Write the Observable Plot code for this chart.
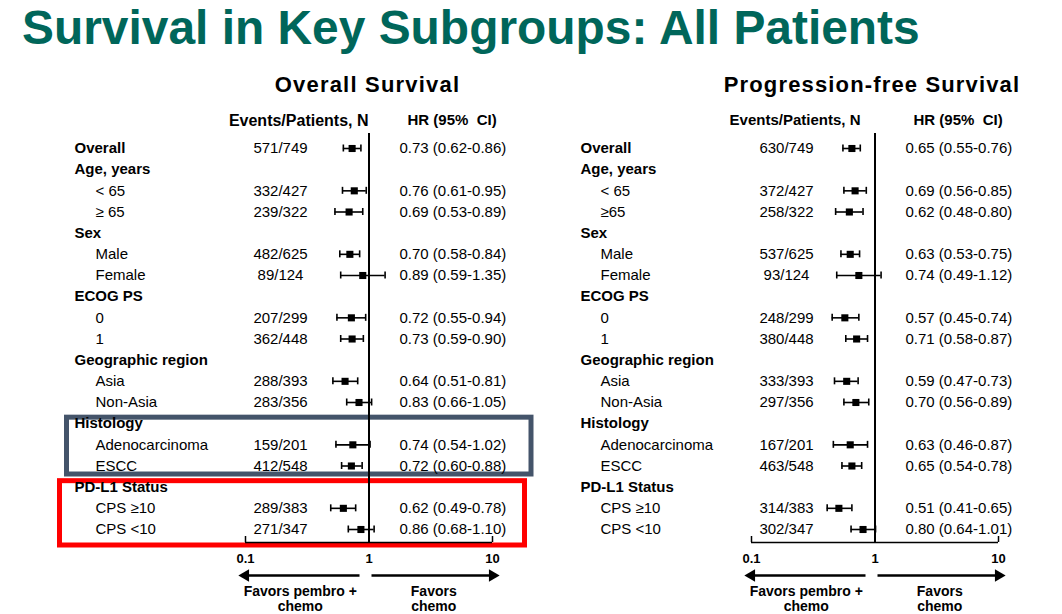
<!DOCTYPE html>
<html><head><meta charset="utf-8">
<script src="https://cdn.jsdelivr.net/npm/d3@7"></script>
<script src="https://cdn.jsdelivr.net/npm/@observablehq/plot@0.6"></script>
<style>
html,body{margin:0;padding:0;background:#fff;}
#root{position:relative;width:1062px;height:614px;overflow:hidden;font-family:"Liberation Sans",Arial,sans-serif;background:#fff;}
#title{position:absolute;left:22px;top:4px;font-size:47.9px;font-weight:bold;color:#00665a;line-height:48px;white-space:nowrap;}
.panel{position:absolute;top:60px;}
</style></head><body>
<div id="root"><div id="title">Survival in Key Subgroups: All Patients</div></div>
<script>
// ---- data ----
const rowLabels = ["Overall","Age, years","< 65","≥ 65","Sex","Male","Female","ECOG PS","0","1",
  "Geographic region","Asia","Non-Asia","Histology","Adenocarcinoma","ESCC","PD-L1 Status","CPS ≥10","CPS <10"];
const headerRows = ["Overall","Age, years","Sex","ECOG PS","Geographic region","Histology","PD-L1 Status"];

const osEvents = ["571/749",null,"332/427","239/322",null,"482/625","89/124",null,"207/299","362/448",null,"288/393","283/356",null,"159/201","412/548",null,"289/383","271/347"];
const osHR   = [0.73,null,0.76,0.69,null,0.70,0.89,null,0.72,0.73,null,0.64,0.83,null,0.74,0.72,null,0.62,0.86];
const osLow  = [0.62,null,0.61,0.53,null,0.58,0.59,null,0.55,0.59,null,0.51,0.66,null,0.54,0.60,null,0.49,0.68];
const osHigh = [0.86,null,0.95,0.89,null,0.84,1.35,null,0.94,0.90,null,0.81,1.05,null,1.02,0.88,null,0.78,1.10];

const pfsEvents = ["630/749",null,"372/427","258/322",null,"537/625","93/124",null,"248/299","380/448",null,"333/393","297/356",null,"167/201","463/548",null,"314/383","302/347"];
const pfsHR   = [0.65,null,0.69,0.62,null,0.63,0.74,null,0.57,0.71,null,0.59,0.70,null,0.63,0.65,null,0.51,0.80];
const pfsLow  = [0.55,null,0.56,0.48,null,0.53,0.49,null,0.45,0.58,null,0.47,0.56,null,0.46,0.54,null,0.41,0.64];
const pfsHigh = [0.76,null,0.85,0.80,null,0.75,1.12,null,0.74,0.87,null,0.73,0.89,null,0.87,0.78,null,0.65,1.01];

const axisTicks = [0.1, 1, 10];
const favorsLeft = "Favors pembro +\nchemo";
const favorsRight = "Favors\nchemo";

// ---- build ----
function buildRows(labels, events, hr, lo, hi) {
  return labels.map((label, i) => ({
    i, label, header: headerRows.includes(label),
    events: events[i], hr: hr[i], lo: lo[i], hi: hi[i]
  }));
}
const fmt = v => v.toFixed(2);

function panel(cfg, rows) {
  const est = rows.filter(d => d.hr != null);
  const last = rows.length - 1;
  const marks = [];
  if (cfg.boxes) {
    const idx = l => rows.findIndex(d => d.label === l);
    marks.push(
      Plot.rect([{a: idx("Histology"), b: idx("ESCC")}], {y1: "a", y2: "b", insetTop: -6, insetBottom: -8.5,
        insetLeft: 66.5, insetRight: cfg.width - 531, fill: "none", stroke: "#44546a", strokeWidth: 5}),
      Plot.rect([{a: idx("PD-L1 Status"), b: idx("CPS <10")}], {y1: "a", y2: "b", insetTop: -6, insetBottom: -16,
        insetLeft: 59.5, insetRight: cfg.width - 524.5, fill: "none", stroke: "#ff0000", strokeWidth: 5})
    );
  }
  marks.push(
    // reference line at HR = 1
    Plot.ruleX([1], {insetTop: 73, stroke: "#000", strokeWidth: 2}),
    // axis line and end ticks
    Plot.ruleY([last], {x1: axisTicks[0], x2: axisTicks[2], dy: 13, stroke: "#000", strokeWidth: 1.5}),
    Plot.ruleX([axisTicks[0], axisTicks[2]], {insetTop: 476, stroke: "#000", strokeWidth: 1.5}),
    Plot.axisX({ticks: axisTicks, tickSize: 0, tickPadding: 11, tickFormat: d => String(d),
      fontWeight: "bold", fontSize: 13, label: null}),
    // favors arrows
    Plot.ruleY([last], {x1: axisTicks[0], x2: axisTicks[1], dy: 46, insetRight: 9, stroke: "#000", strokeWidth: 2.5}),
    Plot.ruleY([last], {x1: axisTicks[1], x2: axisTicks[2], dy: 46, insetLeft: 3, stroke: "#000", strokeWidth: 2.5}),
    Plot.dot([{x: axisTicks[0], angle: -90}, {x: axisTicks[2], angle: 90}], {x: "x", y: () => last, rotate: "angle",
      symbol: "triangle", r: 4.6, fill: "#000", stroke: "none", dy: 46}),
    Plot.text([favorsLeft], {x: Math.sqrt(axisTicks[0] * axisTicks[1]), text: d => d, frameAnchor: "bottom",
      lineAnchor: "middle", dy: 56, dx: -7, fontWeight: "bold", fontSize: 14, lineHeight: 1.12, textAnchor: "middle"}),
    Plot.text([favorsRight], {x: Math.sqrt(axisTicks[1] * axisTicks[2]), text: d => d, frameAnchor: "bottom",
      lineAnchor: "middle", dy: 56, dx: 3, fontWeight: "bold", fontSize: 14, lineHeight: 1.12, textAnchor: "middle"}),
    // error bars
    Plot.ruleY(est, {y: "i", x1: "lo", x2: "hi", stroke: "#000", strokeWidth: 1.6}),
    Plot.ruleX(est, {x: "lo", y1: "i", y2: "i", insetTop: -3.5, insetBottom: -3.5, stroke: "#000", strokeWidth: 1.6}),
    Plot.ruleX(est, {x: "hi", y1: "i", y2: "i", insetTop: -3.5, insetBottom: -3.5, stroke: "#000", strokeWidth: 1.6}),
    Plot.dot(est, {x: "hr", y: "i", symbol: "square", r: 4, fill: "#000", stroke: "none"}),
    // text columns
    Plot.text(rows.filter(d => d.header), {y: "i", text: "label", frameAnchor: "left", dx: 74,
      textAnchor: "start", fontWeight: "bold"}),
    Plot.text(rows.filter(d => !d.header), {y: "i", text: "label", frameAnchor: "left", dx: cfg.subX,
      textAnchor: "start"}),
    Plot.text(est, {y: "i", text: "events", frameAnchor: "left", dx: 280, textAnchor: "middle"}),
    Plot.text(est, {y: "i", text: d => `${fmt(d.hr)} (${fmt(d.lo)}-${fmt(d.hi)})`, frameAnchor: "left",
      dx: 399, textAnchor: "start"}),
    // headers
    Plot.text([cfg.title], {text: d => d, frameAnchor: "top-left", lineAnchor: "middle", dx: cfg.titleX, dy: 24,
      textAnchor: "middle", fontWeight: "bold", fontSize: 22}),
    Plot.text(["Events/Patients, N"], {text: d => d, frameAnchor: "top-left", lineAnchor: "middle", dx: cfg.headRight,
      dy: 60, textAnchor: "end", fontWeight: "bold", fontSize: cfg.headSize}),
    Plot.text(["HR (95%  CI)"], {text: d => d, frameAnchor: "top-left", lineAnchor: "middle", dx: 407, dy: 60,
      textAnchor: "start", fontWeight: "bold", fontSize: 15})
  );
  const svg = Plot.plot({
    width: cfg.width, height: 554,
    marginTop: 0, marginRight: 0, marginBottom: 72, marginLeft: 0,
    x: {type: "log", domain: [0.1, 10], range: [245, 492]},
    y: {domain: [0, last], range: [88, 469], axis: null},
    style: {fontFamily: '"Liberation Sans", Arial, sans-serif', fontSize: "15px", background: "none",
      overflow: "visible", color: "#000"},
    marks
  });
  const texts = d3.select(svg).selectAll("text");
  texts.filter(function() { return this.textContent === cfg.title; })
    .style("letter-spacing", cfg.titleSpacing + "px");
  texts.filter(function() { return this.textContent.startsWith("HR (95%"); })
    .style("white-space", "pre");
  svg.classList.add("panel");
  svg.style.left = cfg.left + "px";
  svg.style.position = "absolute";
  svg.style.top = "60px";
  document.getElementById("root").appendChild(svg);
}

const osRows = buildRows(rowLabels, osEvents, osHR, osLow, osHigh);
const pfsRows = buildRows(rowLabels.map(l => l === "≥ 65" ? "≥65" : l), pfsEvents, pfsHR, pfsLow, pfsHigh);

panel({title: "Overall Survival", titleX: 367, titleSpacing: 1.2, headSize: 16, headRight: 368,
  subX: 95, width: 536, left: 0, boxes: true}, osRows);
panel({title: "Progression-free Survival", titleX: 365.5, titleSpacing: 1.15, headSize: 15, headRight: 354,
  subX: 94, width: 556, left: 506, boxes: false}, pfsRows);
</script>
</body></html>
